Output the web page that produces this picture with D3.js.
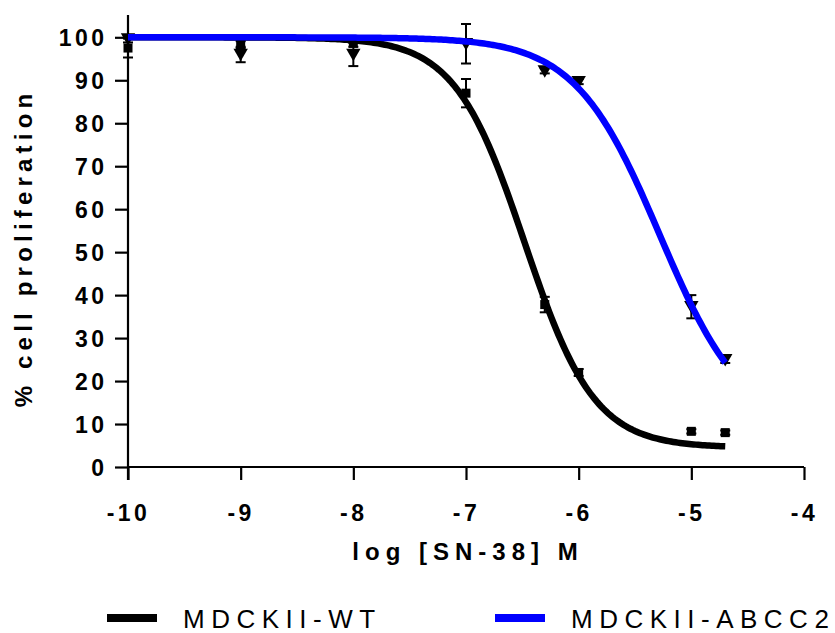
<!DOCTYPE html>
<html>
<head>
<meta charset="utf-8">
<script src="https://cdn.jsdelivr.net/npm/d3@7"></script>
<style>
  body { margin: 0; background: #fff; }
  text { font-family: "Liberation Sans", Arial, sans-serif; }
</style>
</head>
<body>
<div id="chart"></div>
<script>
// log concentrations (M)
var logConc = [-10, -9, -8, -7, -6.301, -6, -5, -4.699];

// MDCKII-WT means and SEM
var wtMean = [97.5, 98.3, 98.6, 87, 37.8, 22, 8.3, 8];
var wtErr = [2.2, 0.8, 0.8, 3.3, 1.8, 0.8, 0.5, 0.5];

// MDCKII-ABCC2 means and SEM
var abMean = [99.6, 96, 96, 98.5, 92.2, 89.7, 37.3, 25];
var abErr = [0.8, 1.8, 2.7, 4.6, 0.6, 0.6, 2.7, 0.8];

// fitted curves: [top, bottom, logIC50, hill]
var wtFit = [100, 4.5, -6.48, 1.4];
var abFit = [100, 8, -5.28, 1.15];

var xTicks = [-10, -9, -8, -7, -6, -5, -4];
var yTicks = [0, 10, 20, 30, 40, 50, 60, 70, 80, 90, 100];

var W = 835, H = 633;
var svg = d3.select("#chart").append("svg")
	.attr("width", W)
	.attr("height", H);

var x = d3.scaleLinear().domain([-10, -4]).range([128, 804]);
var y = d3.scaleLinear().domain([0, 100]).range([467, 37.3]);

function curve(p, lx) {
	return p[1] + (p[0] - p[1]) / (1 + Math.pow(10, (lx - p[2]) * p[3]));
}

// axes (plain hyphen minus, like the original)
var fmt = function(d) { return String(d); };
var xAxis = svg.append("g")
	.attr("transform", "translate(0," + y(0) + ")")
	.call(d3.axisBottom(x).tickValues(xTicks).tickSize(13).tickFormat(fmt));
var yAxis = svg.append("g")
	.attr("transform", "translate(" + x(-10) + ",0)")
	.call(d3.axisLeft(y).tickValues(yTicks).tickSize(13).tickFormat(fmt));

[xAxis, yAxis].forEach(function(a) {
	a.selectAll(".tick line").attr("stroke-width", 2.2);
	a.selectAll("text")
		.attr("font-size", 23)
		.attr("font-weight", "bold")
		.attr("fill", "#000")
		.style("letter-spacing", "3.5px");
});
yAxis.select(".domain").attr("stroke-width", 2.2).attr("d", "M0,15V480");
xAxis.select(".domain").attr("stroke-width", 2.2).attr("d", "M" + x(-10) + ",0H" + x(-4));
xAxis.selectAll(".tick text").attr("y", 0).attr("dy", 54).attr("dx", 0);
yAxis.selectAll(".tick text").attr("x", -24).attr("dx", 3.5).attr("dy", "0.36em");

// axis titles
svg.append("text")
	.attr("x", 468)
	.attr("y", 560)
	.attr("text-anchor", "middle")
	.attr("font-size", 24)
	.attr("font-weight", "bold")
	.style("letter-spacing", "6px")
	.text("log [SN-38] M");

svg.append("text")
	.attr("transform", "translate(32,248) rotate(-90)")
	.attr("text-anchor", "middle")
	.attr("font-size", 24)
	.attr("font-weight", "bold")
	.style("letter-spacing", "5.2px")
	.text("% cell proliferation");

var series = [
	{ mean: wtMean, err: wtErr, fit: wtFit, color: "#000", sym: d3.symbolSquare, size: 81, rot: 0 },
	{ mean: abMean, err: abErr, fit: abFit, color: "#0000ff", sym: d3.symbolTriangle, size: 90, rot: 180 }
];

// error bars and points
series.forEach(function(s) {
	var pts = logConc.map(function(c, i) { return { c: c, m: s.mean[i], e: s.err[i] }; });
	var g = svg.append("g");
	var eb = g.selectAll(".eb").data(pts).enter().append("g");
	eb.append("line")
		.attr("x1", function(d) { return x(d.c); })
		.attr("x2", function(d) { return x(d.c); })
		.attr("y1", function(d) { return y(d.m + d.e); })
		.attr("y2", function(d) { return y(d.m - d.e); })
		.attr("stroke", "#000").attr("stroke-width", 2);
	[1, -1].forEach(function(sg) {
		eb.append("line")
			.attr("x1", function(d) { return x(d.c) - 5; })
			.attr("x2", function(d) { return x(d.c) + 5; })
			.attr("y1", function(d) { return y(d.m + sg * d.e); })
			.attr("y2", function(d) { return y(d.m + sg * d.e); })
			.attr("stroke", "#000").attr("stroke-width", 2);
	});
	g.selectAll("path").data(pts).enter().append("path")
		.attr("d", d3.symbol().type(s.sym).size(s.size))
		.attr("transform", function(d) {
			var ty = s.rot ? y(d.m) - 1.5 : y(d.m);
			return "translate(" + x(d.c) + "," + ty + ") rotate(" + s.rot + ")";
		})
		.attr("fill", "#000");
});

// fitted curves
var grid = d3.range(-10, -4.699 + 0.001, 0.02);
grid.push(-4.699);
series.forEach(function(s) {
	svg.append("path")
		.datum(grid)
		.attr("d", d3.line()
			.x(function(d) { return x(d); })
			.y(function(d) { return y(curve(s.fit, d)); }))
		.attr("fill", "none")
		.attr("stroke", s.color)
		.attr("stroke-width", 6.5);
});

// legend
var legend = [
	{ name: "MDCKII-WT", color: "#000", x0: 107 },
	{ name: "MDCKII-ABCC2", color: "#0000ff", x0: 495 }
];
legend.forEach(function(l) {
	svg.append("rect")
		.attr("x", l.x0).attr("y", 614)
		.attr("width", 50).attr("height", 8)
		.attr("fill", l.color);
	svg.append("text")
		.attr("x", l.x0 + 76)
		.attr("y", 628)
		.attr("font-size", 26)
		.style("letter-spacing", "6.5px")
		.text(l.name);
});
</script>
</body>
</html>
